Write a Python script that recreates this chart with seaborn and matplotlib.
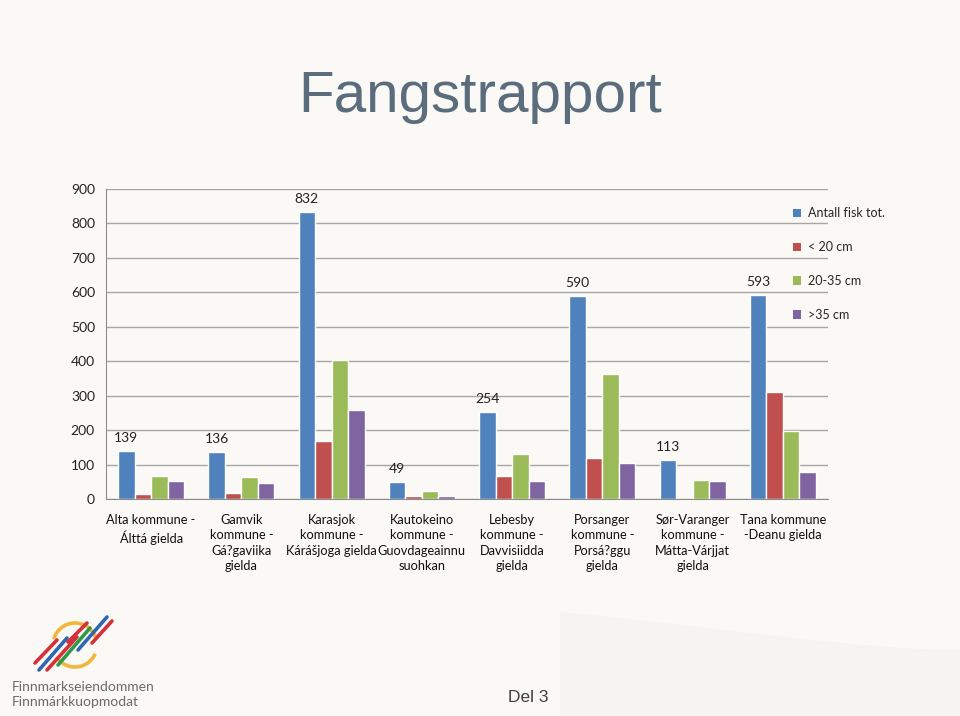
import matplotlib
matplotlib.use("Agg")
import matplotlib.pyplot as plt
from matplotlib.patches import Patch, PathPatch, Arc
from matplotlib.path import Path
from matplotlib.lines import Line2D
import pandas as pd
import seaborn as sns

kommuner = [
    "Alta kommune -\nÁlttá gielda",
    "Gamvik\nkommune -\nGá?gaviika\ngielda",
    "Karasjok\nkommune -\nKárášjoga gielda",
    "Kautokeino\nkommune -\nGuovdageainnu\nsuohkan",
    "Lebesby\nkommune -\nDavvisiidda\ngielda",
    "Porsanger\nkommune -\nPorsá?ggu\ngielda",
    "Sør-Varanger\nkommune -\nMátta-Várjjat\ngielda",
    "Tana kommune\n-Deanu gielda",
]
serier = ["Antall fisk tot.", "< 20 cm", "20-35 cm", ">35 cm"]
antall_tot = [139, 136, 832, 49, 254, 590, 113, 593]
under_20 = [15, 18, 167, 10, 66, 118, 0, 312]
mellom_20_35 = [66, 65, 403, 22, 130, 362, 55, 197]
over_35 = [52, 47, 258, 10, 53, 104, 53, 79]
farger = ["#4F81BD", "#C0504D", "#9BBB59", "#8064A2"]

rows = []
for s, vals in zip(serier, [antall_tot, under_20, mellom_20_35, over_35]):
    for k, v in zip(kommuner, vals):
        rows.append({"kommune": k, "serie": s, "antall": v})
df = pd.DataFrame(rows)

sns.set_style("white")
plt.rcParams["font.family"] = ["Lato", "DejaVu Sans"]

bg = "#faf9f6"
fig = plt.figure(figsize=(9.6, 7.16), dpi=100, facecolor=bg)
ax = fig.add_axes([106 / 960, 1 - 499 / 716, 722 / 960, 310 / 716])
ax.set_facecolor("none")

sns.barplot(data=df, x="kommune", y="antall", hue="serie", palette=farger,
            width=0.73, saturation=1, ax=ax, legend=False)

ax.bar_label(ax.containers[0], padding=5, fontsize=10, color="#222222")

ax.set_ylim(0, 900)
ax.set_yticks(range(0, 901, 100))
ax.set_xlim(-0.5, len(kommuner) - 0.5)
ax.grid(axis="y", color="#a6a6a6", linewidth=1)
ax.set_axisbelow(True)
for side in ["top", "right"]:
    ax.spines[side].set_visible(False)
for side in ["left", "bottom"]:
    ax.spines[side].set_color("#8c8c8c")
ax.set_xlabel("")
ax.set_ylabel("")
ax.tick_params(axis="y", length=0, labelsize=10, pad=8, colors="#222222")
ax.tick_params(axis="x", length=0, labelsize=9.2, pad=11, colors="#111111")
ax.set_xticks([i + 0.5 for i in range(-1, len(kommuner))], minor=True)
ax.tick_params(axis="x", which="minor", length=5, color="#8c8c8c", direction="out")
for lab in ax.get_xticklabels():
    lab.set_linespacing(1.32)

handles = [Patch(facecolor=c, edgecolor="none") for c in farger]
fig.legend(handles, serier, loc="upper left", bbox_to_anchor=(782 / 960, 1 - 196 / 716),
           frameon=False, fontsize=9, handlelength=0.65, handleheight=0.65,
           handletextpad=0.55, labelspacing=1.75)

fig.text(0.5, 1 - 97 / 716, "Fangstrapport", ha="center", va="center",
         fontsize=42, color="#5b6d7c", family="Liberation Sans")
fig.text(528 / 960, 1 - 697 / 716, "Del 3", ha="center", va="center",
         fontsize=12.5, color="#3f3f3f", family="Liberation Sans")

# bakgrunnsbue nede til høyre
W, H = 960, 716
verts = [(560 / W, 1 - 612 / H), (700 / W, 1 - 625 / H), (860 / W, 1 - 650 / H),
         (1.0, 1 - 650 / H), (1.0, 0.0), (560 / W, 0.0), (560 / W, 1 - 612 / H)]
codes = [Path.MOVETO, Path.CURVE4, Path.CURVE4, Path.CURVE4,
         Path.LINETO, Path.LINETO, Path.CLOSEPOLY]
fig.add_artist(PathPatch(Path(verts, codes), facecolor="#f5f4f0", edgecolor="none",
                         transform=fig.transFigure, zorder=0))

# logo
streker = [
    ((35, 663), (57, 640), "#d6303a"),
    ((39, 670), (67, 638), "#2f67b3"),
    ((47, 670), (77, 637), "#d6303a"),
    ((58, 665), (90, 628), "#2f9a48"),
    ((68, 642), (87, 623), "#d6303a"),
    ((78, 650), (107, 617), "#2f67b3"),
    ((92, 643), (112, 621), "#d6303a"),
]
for (x0, y0), (x1, y1), c in streker:
    fig.add_artist(Line2D([x0 / W, x1 / W], [1 - y0 / H, 1 - y1 / H], color=c,
                          linewidth=2.6, solid_capstyle="round", transform=fig.transFigure))
fig.add_artist(Arc((75 / W, 1 - 645 / H), 44 / W, 44 / H, theta1=20, theta2=160,
                   color="#f2b63a", linewidth=2.6, transform=fig.transFigure))
fig.add_artist(Arc((75 / W, 1 - 645 / H), 44 / W, 44 / H, theta1=220, theta2=330,
                   color="#f2b63a", linewidth=2.6, transform=fig.transFigure))
fig.text(12 / W, 1 - 687 / H, "Finnmarkseiendommen", ha="left", va="center",
         fontsize=10, color="#6a6a6a")
fig.text(12 / W, 1 - 702 / H, "Finnmárkkuopmodat", ha="left", va="center",
         fontsize=10, color="#6a6a6a")

fig.savefig("out.png", dpi=100, facecolor=bg)
